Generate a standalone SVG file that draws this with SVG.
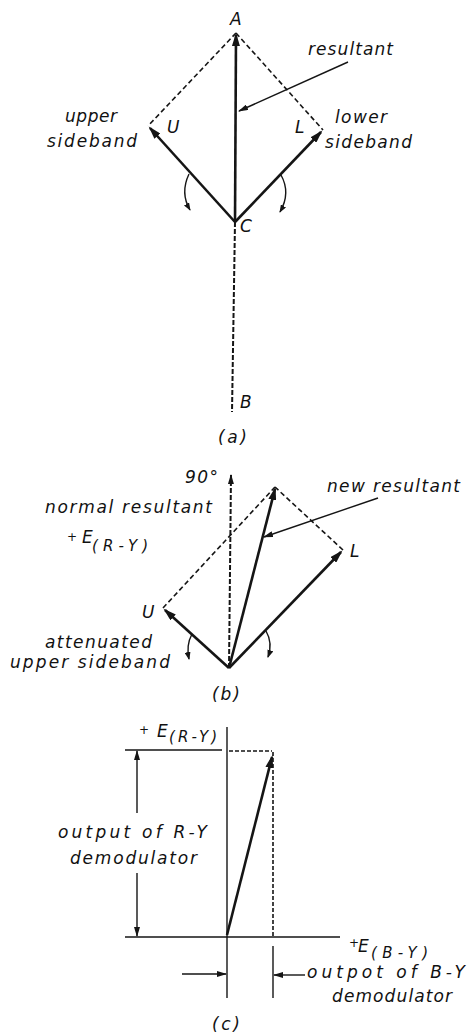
<svg xmlns="http://www.w3.org/2000/svg" width="467" height="1033" viewBox="0 0 467 1033">
<style>
text{font-family:"DejaVu Sans","Liberation Sans",sans-serif;font-style:oblique;font-size:17px;fill:#111}
.sub{font-size:15px}
.plus{font-size:12px}
.thick{stroke:#151515;stroke-width:2.6;fill:none}
.thin{stroke:#151515;stroke-width:1.4;fill:none}
.dash{stroke:#151515;stroke-width:1.6;fill:none;stroke-dasharray:5 3}
.dash2{stroke:#151515;stroke-width:2;fill:none;stroke-dasharray:5 2}
.dash3{stroke:#151515;stroke-width:1.6;fill:none;stroke-dasharray:4 2}
</style>
<defs>
<marker id="big" markerUnits="userSpaceOnUse" markerWidth="14" markerHeight="8" refX="11" refY="4" orient="auto"><path d="M0,0 L13,4 L0,8 z" fill="#151515"/></marker>
<marker id="mid" markerUnits="userSpaceOnUse" markerWidth="10" markerHeight="6" refX="9" refY="3" orient="auto"><path d="M0,0 L10,3 L0,6 z" fill="#151515"/></marker>
<marker id="small" markerUnits="userSpaceOnUse" markerWidth="8" markerHeight="6" refX="7" refY="3" orient="auto"><path d="M0,0 L8,3 L0,6 z" fill="#151515"/></marker>
</defs>

<!-- (a) -->
<g id="diagram-a">
  <g id="a-connectors">
    <line class="dash" x1="236" y1="33" x2="148" y2="126"/>
    <line class="dash" x1="236" y1="33" x2="323" y2="130"/>
    <line class="dash2" x1="235" y1="222" x2="232" y2="412"/>
    <line class="thick" x1="235" y1="222" x2="236" y2="35" marker-end="url(#big)"/>
    <line class="thick" x1="235" y1="222" x2="150" y2="128" marker-end="url(#big)"/>
    <line class="thick" x1="235" y1="222" x2="321" y2="132" marker-end="url(#big)"/>
    <line class="thin" x1="348" y1="62" x2="239" y2="111" marker-end="url(#mid)"/>
    <path class="thin" d="M189 174 Q180 193 190 210" marker-end="url(#small)"/>
    <path class="thin" d="M281 175 Q291 193 280 212" marker-end="url(#small)"/>
  </g>
  <g id="a-labels">
    <text x="230" y="25">A</text>
    <text x="308" y="55" textLength="85" lengthAdjust="spacing">resultant</text>
    <text x="65" y="122" textLength="52" lengthAdjust="spacing">upper</text>
    <text x="47" y="147" textLength="90" lengthAdjust="spacing">sideband</text>
    <text x="167" y="133">U</text>
    <text x="295" y="133">L</text>
    <text x="335" y="123" textLength="52" lengthAdjust="spacing">lower</text>
    <text x="325" y="148" textLength="87" lengthAdjust="spacing">sideband</text>
    <text x="240" y="232">C</text>
    <text x="240" y="408">B</text>
    <text x="218" y="443" textLength="29" lengthAdjust="spacing">(a)</text>
  </g>
</g>

<!-- (b) -->
<g id="diagram-b">
  <g id="b-connectors">
    <line class="dash2" x1="229" y1="668" x2="231" y2="475" marker-end="url(#mid)"/>
    <line class="dash" x1="163" y1="608" x2="275" y2="487"/>
    <line class="dash" x1="343" y1="550" x2="275" y2="487"/>
    <line class="thick" x1="229" y1="668" x2="275" y2="489" marker-end="url(#big)"/>
    <line class="thick" x1="229" y1="668" x2="165" y2="610" marker-end="url(#big)"/>
    <line class="thick" x1="229" y1="668" x2="341" y2="552" marker-end="url(#big)"/>
    <line class="thin" x1="378" y1="498" x2="264" y2="537" marker-end="url(#mid)"/>
    <path class="thin" d="M192 634 Q186 645 189 659" marker-end="url(#small)"/>
    <path class="thin" d="M266 631 Q273 643 268 657" marker-end="url(#small)"/>
  </g>
  <g id="b-labels">
    <text x="185" y="483" textLength="33" lengthAdjust="spacing">90°</text>
    <text x="327" y="492" textLength="133" lengthAdjust="spacing">new resultant</text>
    <text x="45" y="513" textLength="167" lengthAdjust="spacing">normal resultant</text>
    <text class="plus" x="67" y="541">+</text>
    <text x="82" y="543">E</text>
    <text class="sub" x="92" y="551" textLength="56" lengthAdjust="spacing">(R-Y)</text>
    <text x="350" y="557">L</text>
    <text x="142" y="618">U</text>
    <text x="45" y="648" textLength="107" lengthAdjust="spacing">attenuated</text>
    <text x="10" y="668" textLength="160" lengthAdjust="spacing">upper sideband</text>
    <text x="212" y="700" textLength="28" lengthAdjust="spacing">(b)</text>
  </g>
</g>

<!-- (c) -->
<g id="diagram-c">
  <g id="c-axes">
    <line class="thin" x1="227" y1="727" x2="227" y2="998"/>
    <line class="thin" x1="125" y1="937" x2="340" y2="937"/>
    <line class="thin" x1="125" y1="750" x2="222" y2="750"/>
    <line class="thin" x1="273" y1="946" x2="273" y2="998"/>
  </g>
  <g id="c-connectors">
    <line class="dash3" x1="229" y1="751" x2="272" y2="751"/>
    <line class="dash3" x1="273" y1="752" x2="273" y2="937"/>
    <line class="thick" x1="227" y1="935" x2="272" y2="757" marker-end="url(#big)"/>
    <line class="thin" x1="137" y1="813" x2="137" y2="751" marker-end="url(#mid)"/>
    <line class="thin" x1="137" y1="873" x2="137" y2="936" marker-end="url(#mid)"/>
    <line class="thin" x1="182" y1="974" x2="226" y2="974" marker-end="url(#mid)"/>
    <line class="thin" x1="305" y1="975" x2="274" y2="975" marker-end="url(#mid)"/>
  </g>
  <g id="c-labels">
    <text class="plus" x="139" y="734">+</text>
    <text x="157" y="737">E</text>
    <text class="sub" x="169" y="742" textLength="48" lengthAdjust="spacing">(R-Y)</text>
    <text x="58" y="838" textLength="149" lengthAdjust="spacing">output of R-Y</text>
    <text x="70" y="864" textLength="127" lengthAdjust="spacing">demodulator</text>
    <text class="plus" x="349" y="947">+</text>
    <text x="358" y="952">E</text>
    <text class="sub" x="371" y="958" textLength="57" lengthAdjust="spacing">(B-Y)</text>
    <text x="307" y="978" textLength="158" lengthAdjust="spacing">outpot of B-Y</text>
    <text x="332" y="1002" textLength="120" lengthAdjust="spacing">demodulator</text>
    <text x="212" y="1030" textLength="28" lengthAdjust="spacing">(c)</text>
  </g>
</g>
</svg>
